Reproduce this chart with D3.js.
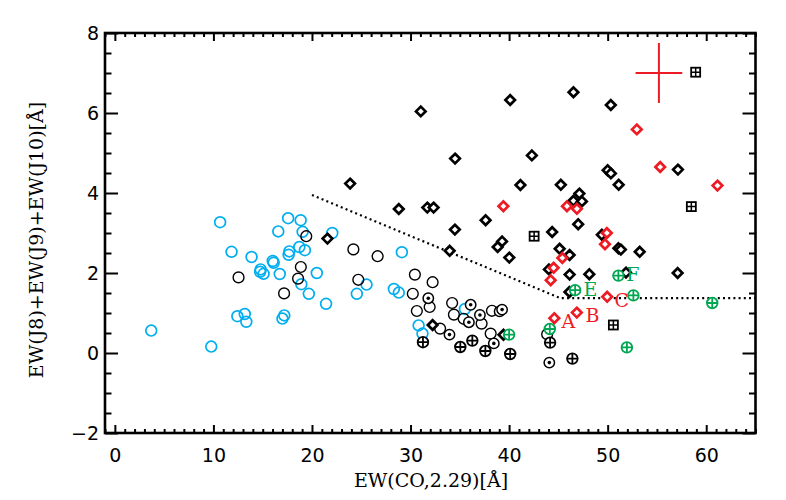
<!DOCTYPE html>
<html><head><meta charset="utf-8">
<script src="https://cdn.jsdelivr.net/npm/d3@7"></script>
<style>
html,body{margin:0;padding:0;background:#fff;}
svg{display:block;}
</style></head>
<body>
<svg id="chart" width="786" height="500"></svg>
<script>
// ---- data (EW(CO,2.29), EW(J8)+EW(J9)+EW(J10)) ----
const cyanCircles = [
 [3.69,0.56],[9.78,0.16],[10.68,3.27],[11.84,2.53],[13.87,2.40],[12.43,0.92],[13.18,0.975],[13.34,0.78],
 [14.79,2.09],[14.74,2.03],[15.09,1.98],[16.02,2.30],[16.11,2.255],[16.73,1.975],[16.58,3.04],[17.00,0.86],
 [17.19,0.94],[17.58,3.37],[17.63,2.455],[17.70,2.54],[18.85,3.32],[19.05,3.03],[18.72,2.65],[19.28,2.57],
 [18.92,1.72],[19.68,1.48],[20.49,2.00],[21.43,1.23],[22.06,3.00],[24.55,1.48],[25.54,1.71],[28.31,1.60],
 [28.81,1.51],[29.12,2.52],[30.82,0.69],[31.21,0.485],[35.52,1.10]
];
const blackCircles = [
 [12.55,1.89],[17.17,1.49],[18.87,2.15],[18.59,1.86],[19.42,2.92],[24.20,2.59],[26.66,2.42],[24.70,1.83],
 [30.44,1.96],[32.24,1.77],[30.23,1.48],[31.94,1.15],[30.64,1.05],[33.00,0.61],[34.22,1.25],[34.40,0.96],
 [35.39,0.855],[37.21,0.735],[38.13,0.485],[38.26,1.055],[43.86,0.47]
];
const dotCircles = [
 [31.80,1.37],[36.10,1.205],[37.04,0.95],[35.92,0.77],[33.95,0.46],[38.45,0.24],[44.08,-0.24],[39.04,1.04],[39.29,1.085]
];
const blackPlusCircles = [
 [31.26,0.27],[35.05,0.15],[36.27,0.31],[37.59,0.05],[40.11,-0.025],[44.16,0.26],[46.42,-0.14]
];
const greenPlusCircles = [
 [40.00,0.46],[44.13,0.60],[46.70,1.57],[51.09,1.935],[52.61,1.44],[60.61,1.25],[51.95,0.14]
];
const plusSquares = [
 [42.54,2.92],[50.58,0.70],[58.49,3.66],[58.93,7.02]
];
const blackDiamonds = [
 [23.87,4.235],[31.04,6.04],[40.11,6.325],[46.53,6.52],[50.32,6.20],[34.52,4.86],[42.31,4.94],[41.15,4.20],
 [45.25,4.205],[50.00,4.57],[50.33,4.49],[51.12,4.205],[57.13,4.585],[47.13,3.985],[46.53,3.805],[47.39,3.79],
 [28.81,3.60],[31.70,3.635],[32.34,3.635],[37.62,3.32],[34.50,3.085],[21.57,2.86],[33.97,2.555],[39.29,2.79],
 [38.84,2.65],[40.02,2.385],[47.01,3.22],[44.37,3.025],[49.41,2.955],[45.13,2.605],[46.14,2.45],[51.09,2.62],
 [51.34,2.585],[53.25,2.53],[44.04,2.09],[46.14,1.96],[48.14,1.97],[51.86,2.01],[57.10,2.00],[46.12,1.525],
 [32.24,0.70],[39.43,0.455]
];
const redDiamonds = [
 [52.96,5.59],[55.33,4.65],[61.14,4.185],[39.42,3.67],[45.87,3.67],[46.88,3.605],[49.92,3.00],[49.73,2.72],
 [45.40,2.375],[44.52,2.13],[44.22,1.82],[49.95,1.405],[46.87,1.01],[44.59,0.87]
];
const boundary = [[20,3.95],[45.2,1.37],[65,1.37]];
const errorBar = [{x:55.2, y:7.0, dx:2.37, dy:0.75}];
const redLabels = [{t:"A",x:46.02,y:0.80},{t:"B",x:48.46,y:0.95},{t:"C",x:51.44,y:1.32}];
const greenLabels = [{t:"E",x:48.25,y:1.60},{t:"F",x:52.56,y:1.97}];
const xMajor = [0,10,20,30,40,50,60];
const yMajor = [-2,0,2,4,6,8];
const yTickLabels = ["\u22122","0","2","4","6","8"];
const xTitle = "EW(CO,2.29)[Å]";
const yTitle = "EW(J8)+EW(J9)+EW(J10)[Å]";

// ---- colours ----
const CYAN = "#00aeef", RED = "#ed1c24", GREEN = "#00a651";

const svg = d3.select("#chart");
const L = 105, R = 755.5, T = 33, B = 433;
const x = d3.scaleLinear().domain([-1,65]).range([L,R]);
const y = d3.scaleLinear().domain([-2,8]).range([B,T]);

const xMinor = d3.range(-1,66,1).filter(v => xMajor.indexOf(v) < 0);
const yMinor = d3.range(-2,8.01,0.5).filter(v => yMajor.indexOf(v) < 0);

function styleAxis(g){ g.select(".domain").remove(); g.selectAll("line").attr("stroke","#000").attr("stroke-width",2); }

// major/minor ticks (inward)
svg.append("g").attr("transform",`translate(0,${B})`)
  .call(d3.axisBottom(x).tickValues(xMajor).tickSize(-8).tickPadding(16).tickFormat(d3.format("d")))
  .call(styleAxis)
  .call(g => g.selectAll("text").attr("font-size",19).attr("fill","#000").attr("font-family","DejaVu Sans"));
svg.append("g").attr("transform",`translate(0,${B})`)
  .call(d3.axisBottom(x).tickValues(xMinor).tickSize(-4).tickFormat("")).call(styleAxis);
svg.append("g").attr("transform",`translate(0,${T})`)
  .call(d3.axisTop(x).tickValues(xMajor).tickSize(-8).tickFormat("")).call(styleAxis);
svg.append("g").attr("transform",`translate(0,${T})`)
  .call(d3.axisTop(x).tickValues(xMinor).tickSize(-4).tickFormat("")).call(styleAxis);

svg.append("g").attr("transform",`translate(${L},0)`)
  .call(d3.axisLeft(y).tickValues(yMajor).tickSize(-13).tickPadding(6).tickFormat((d,i)=>yTickLabels[i]))
  .call(styleAxis)
  .call(g => g.selectAll("text").attr("font-size",19).attr("fill","#000").attr("font-family","DejaVu Sans"));
svg.append("g").attr("transform",`translate(${L},0)`)
  .call(d3.axisLeft(y).tickValues(yMinor).tickSize(-6.5).tickFormat("")).call(styleAxis);
svg.append("g").attr("transform",`translate(${R},0)`)
  .call(d3.axisRight(y).tickValues(yMajor).tickSize(-13).tickFormat("")).call(styleAxis);
svg.append("g").attr("transform",`translate(${R},0)`)
  .call(d3.axisRight(y).tickValues(yMinor).tickSize(-6.5).tickFormat("")).call(styleAxis);

// frame
svg.append("rect").attr("x",L).attr("y",T).attr("width",R-L).attr("height",B-T)
  .attr("fill","none").attr("stroke","#000").attr("stroke-width",2.6);

// titles
svg.append("text").attr("x",431).attr("y",487).attr("text-anchor","middle")
  .attr("font-family","DejaVu Serif").attr("font-size",19).text(xTitle);
svg.append("text").attr("transform","translate(43,240) rotate(-90)").attr("text-anchor","middle")
  .attr("font-family","DejaVu Serif").attr("font-size",19).text(yTitle);

// boundary dotted line
svg.append("path").datum(boundary)
  .attr("d", d3.line().x(d=>x(d[0])).y(d=>y(d[1])))
  .attr("fill","none").attr("stroke","#000").attr("stroke-width",2.2).attr("stroke-dasharray","2,3.2");

const plot = svg.append("g");
function circles(data, color, sw){
  plot.append("g").selectAll("circle").data(data).join("circle")
    .attr("cx",d=>x(d[0])).attr("cy",d=>y(d[1])).attr("r",5.4)
    .attr("fill","none").attr("stroke",color).attr("stroke-width",sw);
}
circles(cyanCircles, CYAN, 1.7);
circles(blackCircles, "#000", 1.4);

// dot circles
const dc = plot.append("g").selectAll("g").data(dotCircles).join("g")
  .attr("transform",d=>`translate(${x(d[0])},${y(d[1])})`);
dc.append("circle").attr("r",5.2).attr("fill","#fff").attr("stroke","#000").attr("stroke-width",1.5);
dc.append("circle").attr("r",1.8).attr("fill","#000");

function plusCircles(data,color){
  const g = plot.append("g").selectAll("g").data(data).join("g")
    .attr("transform",d=>`translate(${x(d[0])},${y(d[1])})`);
  g.append("circle").attr("r",5.3).attr("fill","#fff").attr("stroke",color).attr("stroke-width",1.8);
  g.append("path").attr("d","M-5.3,0H5.3M0,-5.3V5.3").attr("stroke",color).attr("stroke-width",1.8);
}
plusCircles(blackPlusCircles,"#000");

function diamonds(data,color){
  plot.append("g").selectAll("path").data(data).join("path")
    .attr("transform",d=>`translate(${x(d[0])},${y(d[1])})`)
    .attr("d","M0,-4.8L4.8,0L0,4.8L-4.8,0Z")
    .attr("fill","#fff").attr("stroke",color).attr("stroke-width",2.7);
}
diamonds(blackDiamonds,"#000");
diamonds(redDiamonds,RED);
plusCircles(greenPlusCircles,GREEN);

// squares with plus
const sq = plot.append("g").selectAll("g").data(plusSquares).join("g")
  .attr("transform",d=>`translate(${x(d[0])},${y(d[1])})`);
sq.append("rect").attr("x",-4.5).attr("y",-4.5).attr("width",9).attr("height",9)
  .attr("fill","#fff").attr("stroke","#000").attr("stroke-width",1.8);
sq.append("path").attr("d","M-4.5,0H4.5M0,-4.5V4.5").attr("stroke","#000").attr("stroke-width",1.5);

// error cross
const eb = plot.append("g").selectAll("g").data(errorBar).join("g");
eb.append("line").attr("x1",d=>x(d.x-d.dx)).attr("x2",d=>x(d.x+d.dx)).attr("y1",d=>y(d.y)).attr("y2",d=>y(d.y))
  .attr("stroke",RED).attr("stroke-width",2);
eb.append("line").attr("x1",d=>x(d.x)).attr("x2",d=>x(d.x)).attr("y1",d=>y(d.y-d.dy)).attr("y2",d=>y(d.y+d.dy))
  .attr("stroke",RED).attr("stroke-width",2);

// letter labels
function letters(data,color){
  plot.append("g").selectAll("text").data(data).join("text")
    .attr("x",d=>x(d.x)).attr("y",d=>y(d.y)).attr("dy","0.36em").attr("text-anchor","middle")
    .attr("font-family","DejaVu Serif").attr("font-size",19).attr("fill",color).text(d=>d.t);
}
letters(redLabels,RED);
letters(greenLabels,GREEN);
</script>
</body></html>
